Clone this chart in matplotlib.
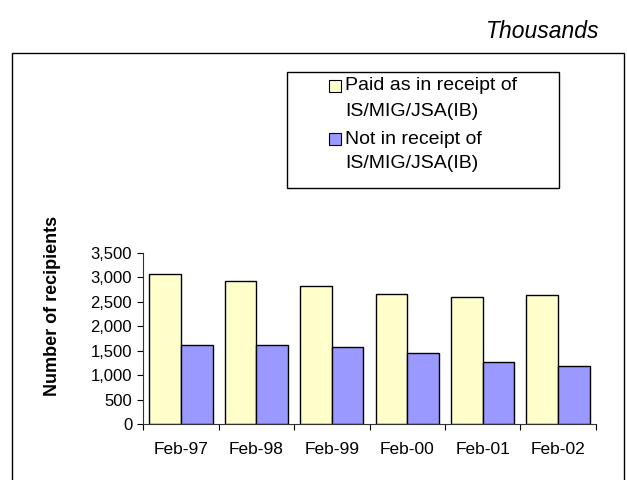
import matplotlib
matplotlib.use("Agg")
import matplotlib.pyplot as plt
from matplotlib.patches import Rectangle
import numpy as np

categories = ["Feb-97", "Feb-98", "Feb-99", "Feb-00", "Feb-01", "Feb-02"]
paid_is = [3070, 2915, 2820, 2665, 2600, 2630]
not_is = [1625, 1625, 1570, 1445, 1280, 1190]
series_labels = ["Paid as in receipt of\nIS/MIG/JSA(IB)", "Not in receipt of\nIS/MIG/JSA(IB)"]
series_colors = ["#FFFFCC", "#9999FF"]
yticks = [0, 500, 1000, 1500, 2000, 2500, 3000, 3500]

plt.rcParams['font.family'] = ['Liberation Sans', 'DejaVu Sans']

W, H = 627, 480
fig = plt.figure(figsize=(W/100, H/100), dpi=100)

def fx(px): return px / W
def fy(py): return 1 - py / H

# outer frame
fig.patches.append(Rectangle((fx(12), fy(490)), fx(624) - fx(12), fy(53) - fy(490),
                             transform=fig.transFigure, fill=False, edgecolor="black",
                             linewidth=1.0, clip_on=False))

ax = fig.add_axes([fx(143.3), fy(424.3), fx(595.7) - fx(143.3), fy(252.7) - fy(424.3)])
x = np.arange(len(categories))
bw = 0.418
ax.bar(x - bw/2, paid_is, width=bw, color=series_colors[0], edgecolor="black", linewidth=1.0, zorder=2)
ax.bar(x + bw/2, not_is, width=bw, color=series_colors[1], edgecolor="black", linewidth=1.0, zorder=2)

ax.set_xlim(-0.5, len(categories) - 0.5)
ax.set_ylim(0, 3500)
ax.set_facecolor("none")
for s in ["top", "right"]:
    ax.spines[s].set_visible(False)
for s in ["left", "bottom"]:
    ax.spines[s].set_linewidth(0.8)
    ax.spines[s].set_color("#333333")

ax.set_yticks(yticks)
ax.set_yticklabels([f"{v:,}" for v in yticks], fontsize=12)
ax.tick_params(axis="y", direction="out", length=4, width=0.8, pad=4)

ax.set_xticks(np.arange(-0.5, len(categories), 1.0))
ax.set_xticklabels([])
ax.tick_params(axis="x", direction="out", length=4, width=0.8)
for i, c in enumerate(categories):
    ax.text(i, -0.145, c, transform=ax.get_xaxis_transform(), ha="center", va="center", fontsize=12.5)

fig.text(fx(53), fy(306), "Number of recipients", rotation=90, ha="center", va="center",
         fontsize=13, fontweight="bold")

fig.text(fx(599), fy(31), "Thousands", ha="right", va="center", fontsize=16.5, style="italic")

# legend
fig.patches.append(Rectangle((fx(287.3), fy(187.7)), fx(559.3) - fx(287.3), fy(72.3) - fy(187.7),
                             transform=fig.transFigure, fill=True, facecolor="white",
                             edgecolor="black", linewidth=1.0))
first_line_y = [86, 139]
for lab, col, ly in zip(series_labels, series_colors, first_line_y):
    fig.patches.append(Rectangle((fx(328.5), fy(ly + 6)), fx(340.5) - fx(328.5), fy(ly - 6) - fy(ly + 6),
                                 transform=fig.transFigure, facecolor=col, edgecolor="black",
                                 linewidth=0.8))
    lines = lab.split("\n")
    for k, t in enumerate(lines):
        fig.text(fx(345), fy(ly + 25 * k), t, ha="left", va="center", fontsize=14.0)

fig.savefig("out.png", dpi=100)
